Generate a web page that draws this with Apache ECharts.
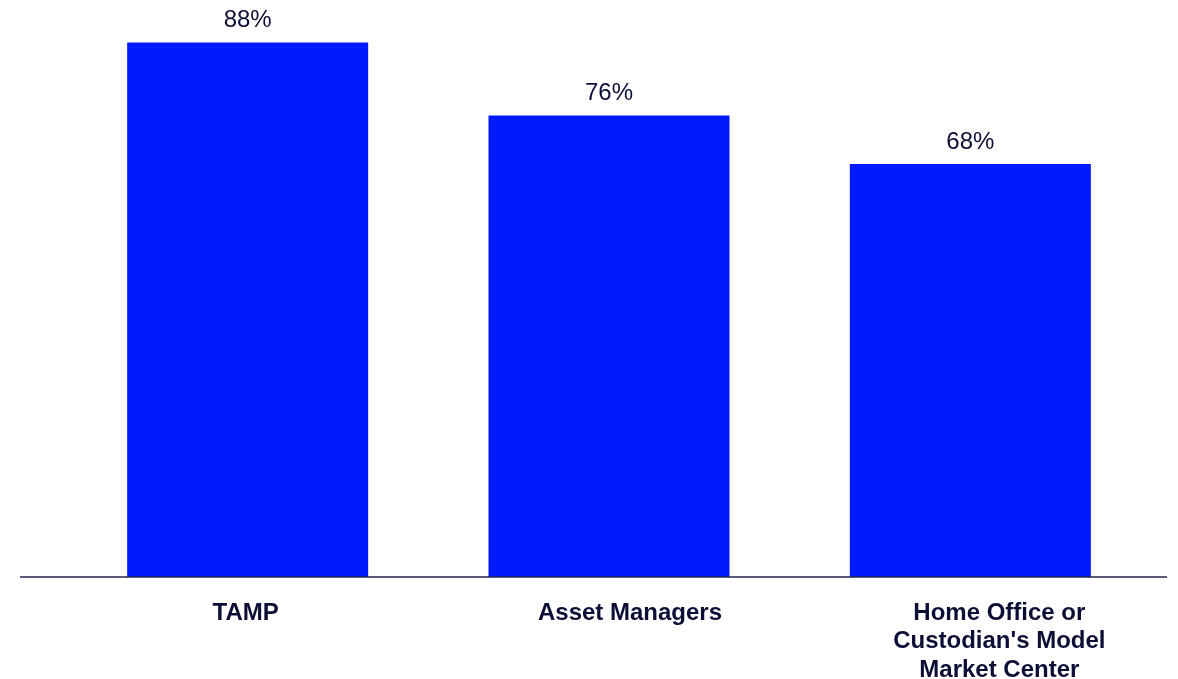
<!DOCTYPE html>
<html>
<head>
<meta charset="utf-8">
<script src="https://cdn.jsdelivr.net/npm/echarts@6/dist/echarts.min.js"></script>
<style>
  html, body { margin: 0; padding: 0; background: #ffffff; overflow: hidden; }
  #chart { width: 1178px; height: 679px; }
</style>
</head>
<body>
<div id="chart"></div>
<script>
// Share of respondents by model source
const categories = ['TAMP', 'Asset Managers', "Home Office or\nCustodian's Model\nMarket Center"];
const values = [88, 76, 68];

const BAR_COLOR = '#0019ff';
const TEXT_COLOR = '#0d0e35';
const FONT = '"Liberation Sans", Arial, sans-serif';

// Horizontal nudge (px) of each category label relative to its bar centre
const LABEL_SHIFT = [-2, 21, 29];

const categoryItems = categories.map((name, i) => {
  const s = LABEL_SHIFT[i];
  return {
    value: name,
    textStyle: { padding: [0, s < 0 ? -2 * s : 0, 0, s > 0 ? 2 * s : 0] }
  };
});

const chart = echarts.init(document.getElementById('chart'), null, { renderer: 'canvas' });

chart.setOption({
  animation: false,
  backgroundColor: '#ffffff',
  grid: {
    left: 67, right: 27, top: 0, height: 577,
    containLabel: false,
    outerBoundsMode: 'none'
  },
  xAxis: {
    type: 'category',
    data: categoryItems,
    axisLine: { show: false },
    axisTick: { show: false },
    axisLabel: {
      color: TEXT_COLOR,
      fontFamily: FONT,
      fontWeight: 'bold',
      fontSize: 24,
      lineHeight: 28.5,
      margin: 22,
      interval: 0
    }
  },
  yAxis: {
    type: 'value',
    min: 0,
    max: 95,
    show: false,
    splitLine: { show: false }
  },
  series: [{
    type: 'bar',
    data: values,
    barWidth: 241,
    itemStyle: { color: BAR_COLOR },
    label: {
      show: true,
      position: 'top',
      distance: 10,
      color: TEXT_COLOR,
      fontFamily: FONT,
      fontSize: 24,
      formatter: p => p.value + '%'
    }
  }]
});

// Baseline spanning the full plot width, placed at the value-axis zero
const baseY = Math.round(chart.convertToPixel({ yAxisIndex: 0 }, 0));
chart.setOption({
  graphic: [{
    type: 'line',
    shape: { x1: 20, y1: baseY, x2: 1167, y2: baseY },
    style: { stroke: '#22244f', lineWidth: 1.5 },
    z: 10
  }]
});
</script>
</body>
</html>
